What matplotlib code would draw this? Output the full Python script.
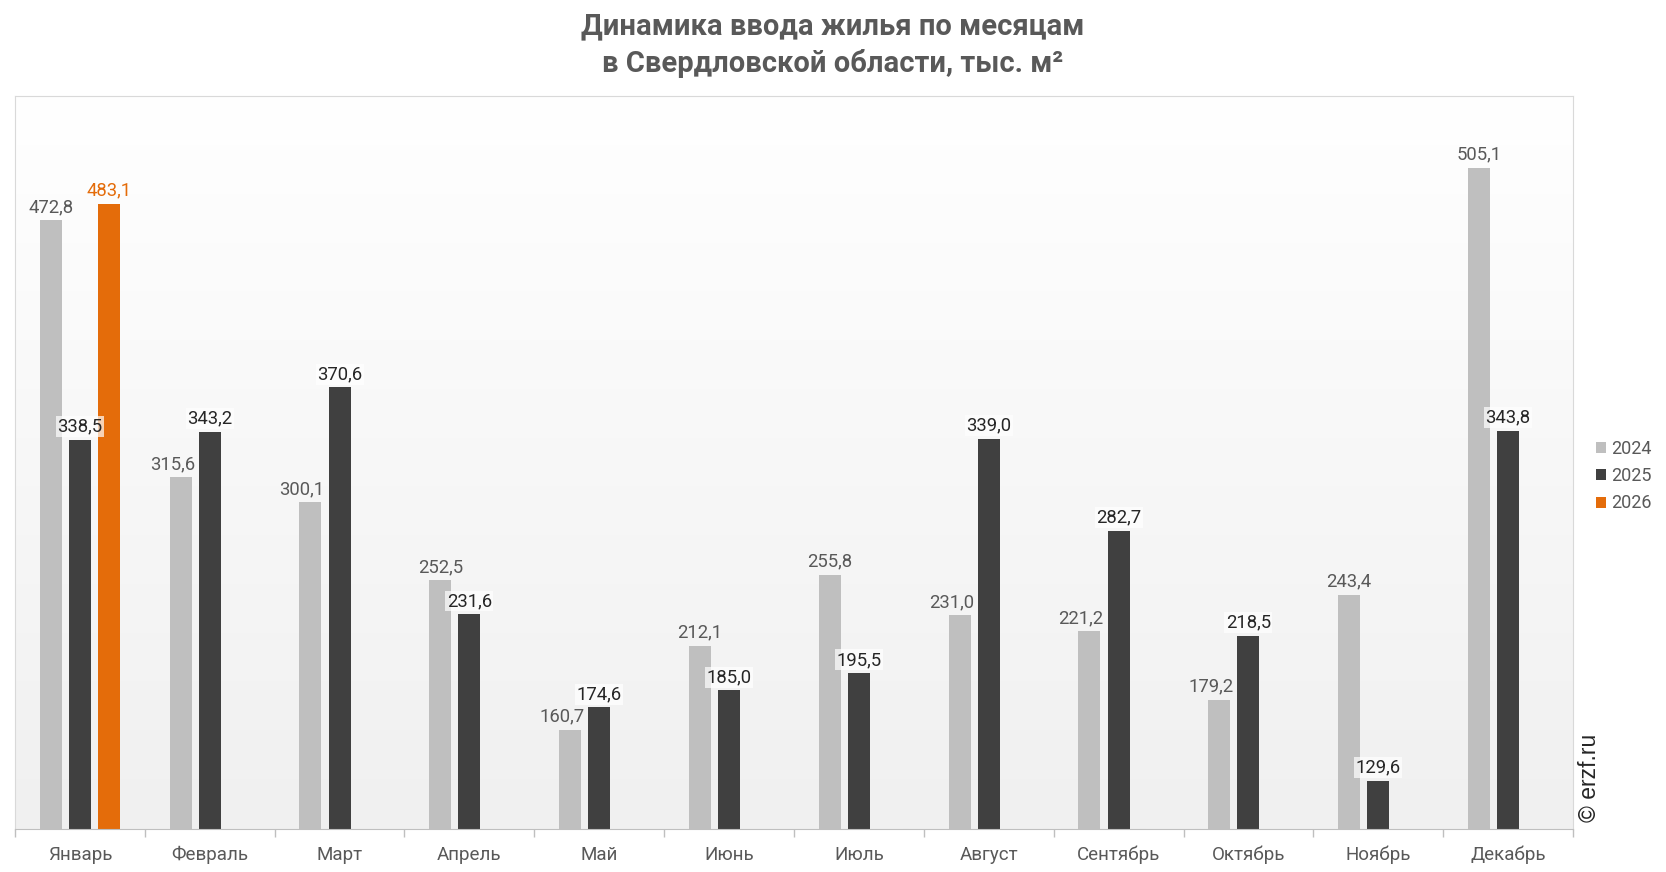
import numpy as np
import matplotlib
matplotlib.use("Agg")
import matplotlib.pyplot as plt
from matplotlib.colors import LinearSegmentedColormap
from matplotlib.patches import Patch

plt.rcParams['font.family'] = ['Roboto', 'DejaVu Sans']

months = ["Январь", "Февраль", "Март", "Апрель", "Май", "Июнь",
          "Июль", "Август", "Сентябрь", "Октябрь", "Ноябрь", "Декабрь"]
years = ["2024", "2025", "2026"]
v2024 = [472.8, 315.6, 300.1, 252.5, 160.7, 212.1, 255.8, 231.0, 221.2, 179.2, 243.4, 505.1]
v2025 = [338.5, 343.2, 370.6, 231.6, 174.6, 185.0, 195.5, 339.0, 282.7, 218.5, 129.6, 343.8]
v2026 = [483.1]

colors = ["#bfbfbf", "#404040", "#e46c0a"]
label_colors = ["#595959", "#262626", "#e46c0a"]
series = [v2024, v2025, v2026]
offsets = [-0.225, 0.0, 0.225]
width = 0.17
ymin, ymax = 100, 549

fig = plt.figure(figsize=(16.66, 8.72), dpi=100)
ax = fig.add_axes([15 / 1666, 1 - 829 / 872, (1573 - 15) / 1666, (829 - 96) / 872])

# background gradient
cmap = LinearSegmentedColormap.from_list("bg", ["#ffffff", "#f0f0f0"])
ax.imshow(np.linspace(0, 1, 256).reshape(-1, 1), cmap=cmap, extent=[0, 1, 0, 1],
          transform=ax.transAxes, aspect='auto', zorder=0)

x = np.arange(len(months))
for i, vals in enumerate(series):
    xs = x[:len(vals)] + offsets[i]
    ax.bar(xs, np.array(vals) - ymin, width=width, bottom=ymin, color=colors[i],
           zorder=2, label=years[i])
    for j, (xi, v) in enumerate(zip(xs, vals)):
        txt = f"{v:.1f}".replace(".", ",")
        dx = 0
        # 2024 labels are nudged left where the taller 2025 bar sits next to them
        if i == 0 and v2025[j] > v and j > 0:
            dx = -6
        bbox = None
        if i == 1:
            bbox = dict(facecolor="white", edgecolor="none", alpha=0.7, pad=1)
        ax.annotate(txt, (xi, v), xytext=(dx, 3), textcoords="offset points",
                    ha="center", va="bottom", fontsize=13.3, color=label_colors[i],
                    zorder=5, bbox=bbox)

ax.set_xlim(-0.5, len(months) - 0.5)
ax.set_ylim(ymin, ymax)
ax.set_yticks([])
ax.set_xticks(x)
ax.set_xticklabels(months, fontsize=13.5, color="#595959")
ax.tick_params(axis='x', which='major', length=0, pad=12)
ax.set_xticks(np.arange(-0.5, len(months)), minor=True)
ax.tick_params(axis='x', which='minor', length=6, color="#bfbfbf", width=1)

for s in ["top", "left", "right"]:
    ax.spines[s].set_color("#d9d9d9")
ax.spines["bottom"].set_color("#bfbfbf")

fig.text(0.5, 1 - 45 / 872, "Динамика ввода жилья по месяцам\nв Свердловской области, тыс. м²",
         ha="center", va="center", fontsize=21, fontweight="bold",
         color="#595959", linespacing=1.35)

handles = [Patch(facecolor=c, edgecolor="none") for c in colors]
fig.legend(handles, years, loc="center left", bbox_to_anchor=(1596 / 1666, 1 - 476 / 872),
           frameon=False, fontsize=13, handlelength=0.56, handleheight=0.56,
           handletextpad=0.3, labelspacing=0.52, borderpad=0, borderaxespad=0,
           labelcolor="#595959")

fig.text(1590 / 1666, 1 - 778 / 872, "© erzf.ru", rotation=90, ha="center", va="center",
         fontsize=16.5, color="#262626", family=["Liberation Sans", "DejaVu Sans"])

fig.savefig("out.png", dpi=100, facecolor="white")
